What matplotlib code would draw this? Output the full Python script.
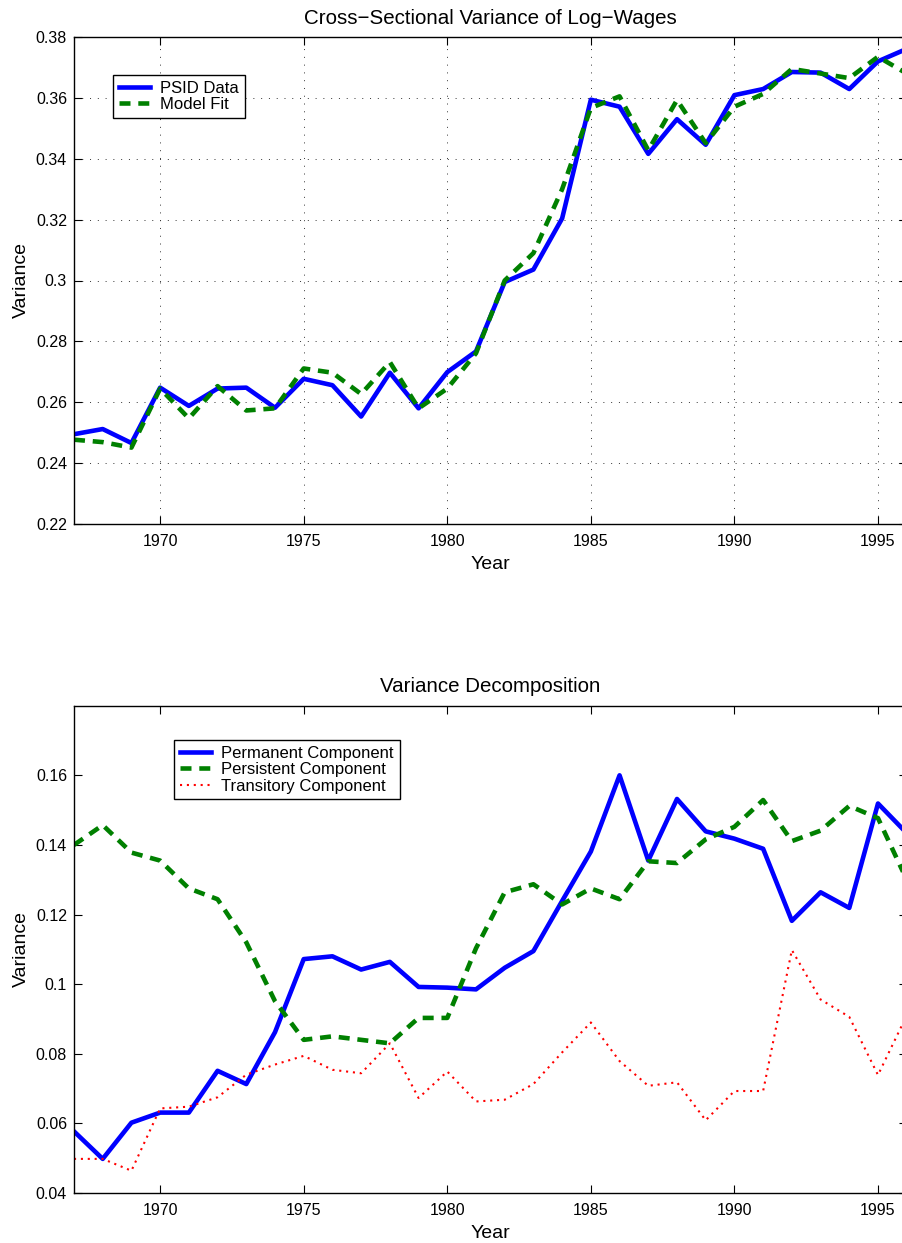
import matplotlib
matplotlib.use("Agg")
import matplotlib.pyplot as plt
from matplotlib.ticker import FuncFormatter

plt.rcParams['font.family'] = ['Liberation Sans', 'DejaVu Sans']

years = list(range(1967, 1997))

psid_data = [0.2495, 0.2512, 0.2466, 0.2648, 0.2588, 0.2645, 0.2648, 0.2582, 0.2677, 0.2656,
             0.2553, 0.2697, 0.2580, 0.2699, 0.2767, 0.2995, 0.3036, 0.3204, 0.3594, 0.3571,
             0.3416, 0.3530, 0.3446, 0.3609, 0.3629, 0.3685, 0.3683, 0.3629, 0.3720, 0.3761]
model_fit = [0.2477, 0.2469, 0.2451, 0.2645, 0.2547, 0.2653, 0.2573, 0.2580, 0.2711, 0.2697,
             0.2627, 0.2732, 0.2580, 0.2645, 0.2761, 0.3000, 0.3090, 0.3300, 0.3567, 0.3605,
             0.3428, 0.3593, 0.3451, 0.3571, 0.3613, 0.3695, 0.3680, 0.3665, 0.3735, 0.3680]

permanent = [0.0577, 0.0498, 0.0602, 0.0631, 0.0631, 0.0751, 0.0713, 0.0862, 0.1072, 0.1080,
             0.1042, 0.1064, 0.0992, 0.0990, 0.0985, 0.1047, 0.1095, 0.1239, 0.1381, 0.1600,
             0.1355, 0.1532, 0.1439, 0.1418, 0.1389, 0.1182, 0.1264, 0.1219, 0.1519, 0.1434]
persistent = [0.1400, 0.1457, 0.1378, 0.1355, 0.1275, 0.1244, 0.1120, 0.0951, 0.0840, 0.0850,
              0.0840, 0.0830, 0.0903, 0.0903, 0.1103, 0.1264, 0.1287, 0.1229, 0.1275, 0.1244,
              0.1353, 0.1348, 0.1416, 0.1452, 0.1529, 0.1411, 0.1441, 0.1512, 0.1477, 0.1300]
transitory = [0.0498, 0.0498, 0.0464, 0.0643, 0.0648, 0.0675, 0.0740, 0.0769, 0.0794, 0.0754,
              0.0744, 0.0830, 0.0673, 0.0749, 0.0663, 0.0668, 0.0713, 0.0804, 0.0890, 0.0779,
              0.0708, 0.0718, 0.0609, 0.0693, 0.0693, 0.1098, 0.0956, 0.0906, 0.0739, 0.0910]

xticks = [1970, 1975, 1980, 1985, 1990, 1995]
top_yticks = [0.22, 0.24, 0.26, 0.28, 0.30, 0.32, 0.34, 0.36, 0.38]
bot_yticks = [0.04, 0.06, 0.08, 0.10, 0.12, 0.14, 0.16]

W, H = 903, 1243
fig = plt.figure(figsize=(W / 100, H / 100), dpi=100)

x_left = 74 / W
x_width = (906.7 - 74) / W
ax1 = fig.add_axes([x_left, 1 - 524 / H, x_width, (524 - 37) / H])
ax2 = fig.add_axes([x_left, 1 - 1193 / H, x_width, (1193 - 705.7) / H])

blue = (0, 0, 1)
green = (0, 0.5, 0)
red = (1, 0, 0)
fmt = FuncFormatter(lambda v, p: ('%g' % round(v, 4)))

def style(ax):
    ax.set_xlim(1967, 1996)
    ax.set_xticks(xticks)
    ax.yaxis.set_major_formatter(fmt)
    ax.tick_params(direction='in', length=5.5, width=0.8, top=True, right=True,
                   labelsize=11.5)
    ax.tick_params(axis='x', pad=7)
    ax.tick_params(axis='y', pad=5)
    for s in ax.spines.values():
        s.set_linewidth(1.0)
    ax.set_xlabel('Year', fontsize=14, labelpad=5)
    ax.set_ylabel('Variance', fontsize=14, labelpad=4)

def make_legend(ax, anchor):
    leg = ax.legend(loc='upper left', bbox_to_anchor=anchor, fontsize=12,
                    frameon=True, fancybox=False, framealpha=1, edgecolor='black',
                    borderpad=0.35, labelspacing=0.08, handlelength=1.9, handletextpad=0.6,
                    borderaxespad=0)
    leg.get_frame().set_linewidth(1.0)
    return leg

# Top panel
ax1.plot(years, psid_data, color=blue, lw=3.3, label='PSID Data')
ax1.plot(years, model_fit, color=green, lw=3.3, dashes=(2.4, 1.7), label='Model Fit')
ax1.set_ylim(0.22, 0.38)
ax1.set_yticks(top_yticks)
style(ax1)
ax1.grid(True, linestyle=(0, (1, 7)), color='#333333', lw=0.7)
ax1.set_title('Cross\u2212Sectional Variance of Log\u2212Wages', fontsize=14.8, pad=9)
make_legend(ax1, (0.0468, 0.922))

# Bottom panel
ax2.plot(years, permanent, color=blue, lw=3.3, label='Permanent Component')
ax2.plot(years, persistent, color=green, lw=3.3, dashes=(2.4, 1.7), label='Persistent Component')
ax2.plot(years, transitory, color=red, lw=1.5, dashes=(1.0, 2.3), label='Transitory Component')
ax2.set_ylim(0.04, 0.18)
ax2.set_yticks(bot_yticks)
style(ax2)
ax2.set_title('Variance Decomposition', fontsize=14.8, pad=10)
make_legend(ax2, (0.120, 0.9296))

fig.savefig('out.png', dpi=100)
